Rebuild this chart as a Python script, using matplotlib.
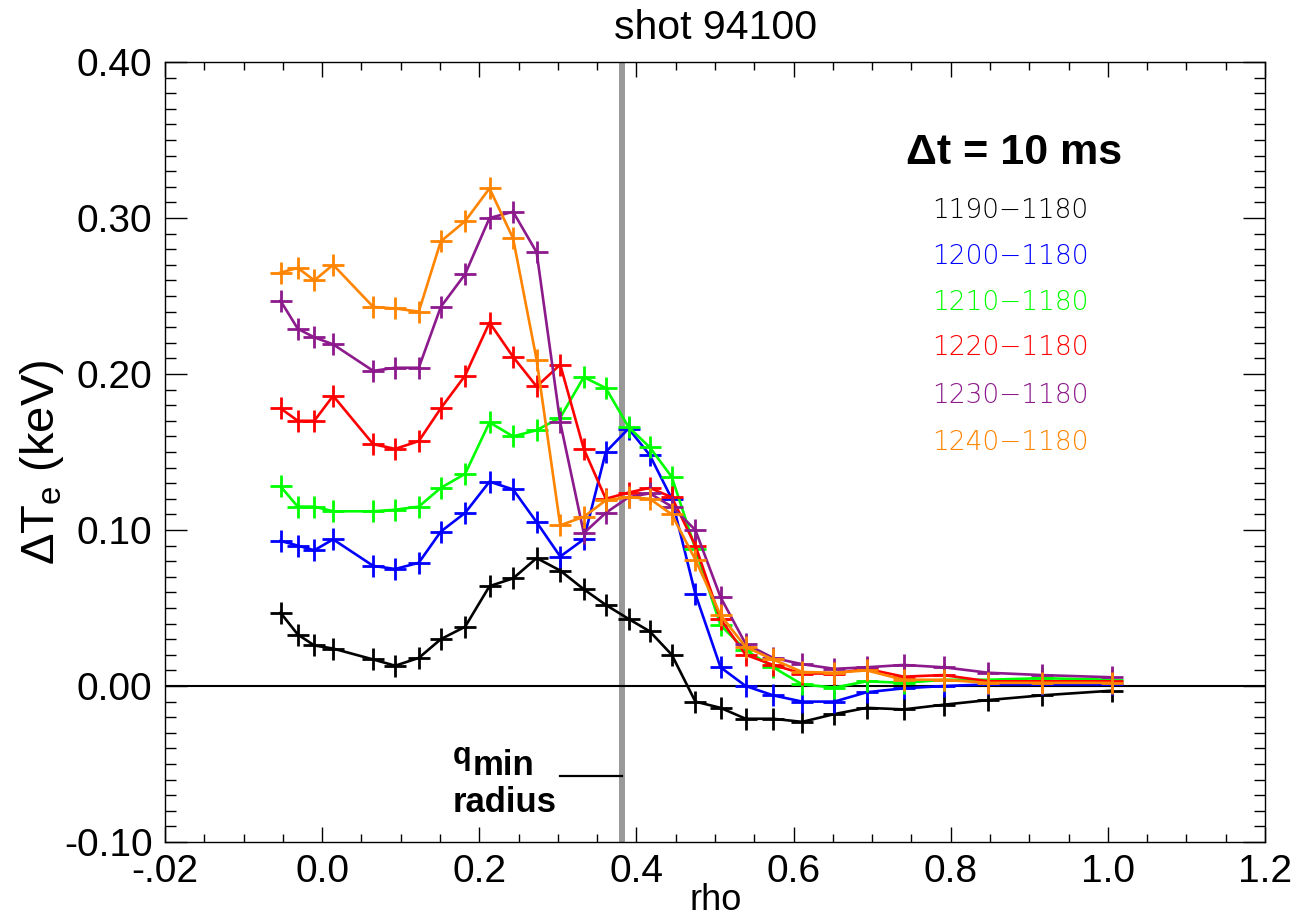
"""
Delta Te profiles for shot 94100, differences against the 1180 ms profile.
Writes out.png.
"""

import matplotlib
matplotlib.use("Agg")
import matplotlib.pyplot as plt
from matplotlib.ticker import MultipleLocator, FixedLocator, FixedFormatter

plt.rcParams["font.family"] = ["Liberation Sans", "DejaVu Sans"]
plt.rcParams["mathtext.fontset"] = "custom"
plt.rcParams["mathtext.rm"] = "Liberation Sans"

# ---- data ----
rho = [-0.053, -0.031, -0.010, 0.014, 0.065, 0.093, 0.123, 0.151, 0.182, 0.213,
       0.243, 0.273, 0.303, 0.333, 0.361, 0.390, 0.417, 0.445, 0.475, 0.507,
       0.539, 0.574, 0.611, 0.652, 0.693, 0.740, 0.791, 0.848, 0.916, 1.005]

dte_1190 = [0.047, 0.033, 0.026, 0.024, 0.017, 0.013, 0.018, 0.030, 0.038, 0.064,
            0.069, 0.082, 0.074, 0.062, 0.052, 0.043, 0.035, 0.020, -0.010, -0.014,
            -0.021, -0.021, -0.023, -0.018, -0.014, -0.015, -0.012, -0.009, -0.006, -0.003]
dte_1200 = [0.093, 0.090, 0.087, 0.094, 0.077, 0.075, 0.079, 0.099, 0.111, 0.131,
            0.126, 0.105, 0.083, 0.094, 0.150, 0.165, 0.148, 0.120, 0.059, 0.012,
            0.000, -0.006, -0.010, -0.010, -0.004, -0.0015, 0.000, 0.001, 0.001, 0.001]
dte_1210 = [0.128, 0.115, 0.115, 0.112, 0.112, 0.113, 0.115, 0.127, 0.136, 0.169,
            0.160, 0.164, 0.172, 0.198, 0.191, 0.166, 0.153, 0.134, 0.088, 0.039,
            0.023, 0.012, 0.001, -0.001, 0.003, 0.002, 0.004, 0.004, 0.005, 0.004]
dte_1220 = [0.178, 0.170, 0.170, 0.186, 0.155, 0.152, 0.157, 0.178, 0.199, 0.233,
            0.211, 0.192, 0.206, 0.152, 0.120, 0.124, 0.127, 0.121, 0.090, 0.043,
            0.020, 0.0135, 0.008, 0.008, 0.011, 0.006, 0.007, 0.003, 0.003, 0.003]
dte_1230 = [0.247, 0.229, 0.2235, 0.219, 0.202, 0.204, 0.204, 0.243, 0.264, 0.300,
            0.304, 0.278, 0.169, 0.098, 0.111, 0.121, 0.1235, 0.115, 0.100, 0.057,
            0.027, 0.018, 0.014, 0.011, 0.012, 0.0135, 0.012, 0.0085, 0.007, 0.0056]
dte_1240 = [0.265, 0.268, 0.260, 0.270, 0.243, 0.242, 0.240, 0.285, 0.298, 0.319,
            0.287, 0.209, 0.103, 0.1085, 0.119, 0.121, 0.120, 0.110, 0.081, 0.0455,
            0.025, 0.017, 0.009, 0.0085, 0.010, 0.004, 0.004, 0.002, 0.002, 0.002]

series_labels = ["1190\u22121180", "1200\u22121180", "1210\u22121180",
                 "1220\u22121180", "1230\u22121180", "1240\u22121180"]
series_colors = ["black", "#0000ff", "#00ff00", "#ff0000", "#8c1a8c", "#ff8400"]

qmin_rho = 0.382

xtick_vals = [-0.2, 0.0, 0.2, 0.4, 0.6, 0.8, 1.0, 1.2]
xtick_labels = ["-.02", "0.0", "0.2", "0.4", "0.6", "0.8", "1.0", "1.2"]
ytick_vals = [-0.10, 0.0, 0.10, 0.20, 0.30, 0.40]
ytick_labels = ["-0.10", "0.00", "0.10", "0.20", "0.30", "0.40"]


def main():
    W, H = 1296, 919
    fig = plt.figure(figsize=(W / 100, H / 100), dpi=100)
    ax = fig.add_axes([165 / W, 1 - 842 / H, 1100 / W, 780 / H])

    ax.axvline(qmin_rho, color="#999999", lw=4.3, zorder=1)
    ax.axhline(0.0, color="black", lw=1.5, zorder=1)

    all_series = [dte_1190, dte_1200, dte_1210, dte_1220, dte_1230, dte_1240]
    for i, (vals, col) in enumerate(zip(all_series, series_colors)):
        ax.plot(rho, vals, color=col, lw=1.9, marker="+", ms=15.5,
                mew=2.0, zorder=2 + i)

    ax.set_xlim(-0.2, 1.2)
    ax.set_ylim(-0.10, 0.40)

    ax.xaxis.set_major_locator(FixedLocator(xtick_vals))
    ax.xaxis.set_major_formatter(FixedFormatter(xtick_labels))
    ax.xaxis.set_minor_locator(MultipleLocator(0.05))
    ax.yaxis.set_major_locator(FixedLocator(ytick_vals))
    ax.yaxis.set_major_formatter(FixedFormatter(ytick_labels))
    ax.yaxis.set_minor_locator(MultipleLocator(0.01))

    ax.tick_params(axis="both", which="both", direction="in",
                   top=True, right=True, width=1.0, labelsize=28)
    ax.tick_params(axis="x", which="major", length=11, pad=9)
    ax.tick_params(axis="x", which="minor", length=5.5)
    ax.tick_params(axis="y", which="major", length=16, pad=9)
    ax.tick_params(axis="y", which="minor", length=8)
    for sp in ax.spines.values():
        sp.set_linewidth(1.0)

    # legend as coloured text, IDL style
    ax.text(0.880, 0.3417, "\u0394t = 10 ms", fontsize=31, fontweight="bold",
            ha="center", va="center")
    leg_y = [0.3045, 0.2756, 0.246, 0.2167, 0.186, 0.1558]
    for lab, col, yy in zip(series_labels, series_colors, leg_y):
        ax.text(0.876, yy, lab, color=col, fontsize=19, ha="center",
                va="center", family="DejaVu Sans", fontweight="light")

    # q_min annotation
    ax.text(0.1667, -0.050, "q", fontsize=22, fontweight="bold",
            va="baseline", ha="left")
    ax.text(0.191, -0.057, "min", fontsize=25, fontweight="bold",
            va="baseline", ha="left")
    ax.text(0.1667, -0.0806, "radius", fontsize=25, fontweight="bold",
            va="baseline", ha="left")
    ax.plot([0.303, qmin_rho], [-0.0575, -0.0575], color="black", lw=1.6,
            zorder=3)

    fig.text(716 / W, 1 - 28 / H, "shot 94100", fontsize=29.5,
             ha="center", va="center")
    fig.text(716 / W, 1 - 910 / H, "rho", fontsize=26, ha="center",
             va="baseline")
    fig.text(42 / W, 1 - 462 / H, "\u0394T$_{\\rm e}$ (keV)", fontsize=34,
             rotation=90, ha="center", va="center")

    fig.savefig("out.png", dpi=100)
    plt.close(fig)


if __name__ == "__main__":
    main()
